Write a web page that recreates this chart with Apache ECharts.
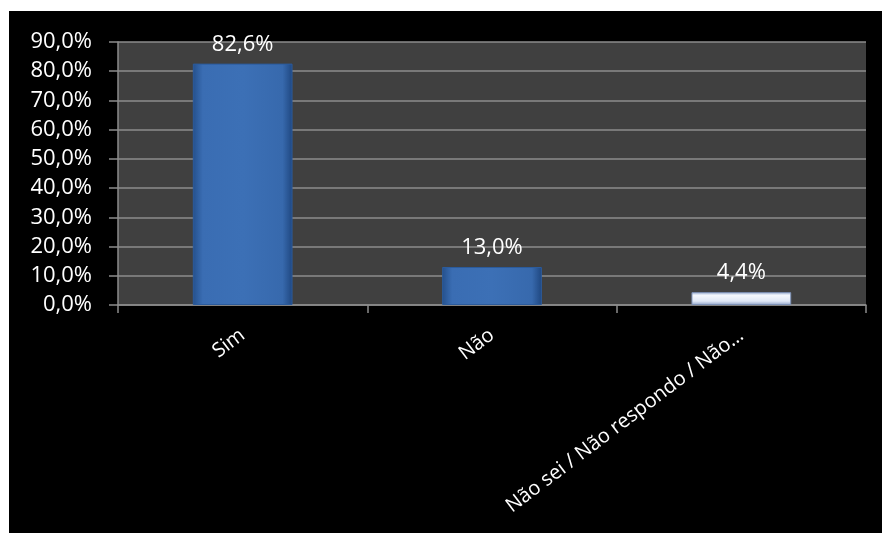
<!DOCTYPE html>
<html><head><meta charset="utf-8">
<script src="https://cdn.jsdelivr.net/npm/echarts@6/dist/echarts.min.js"></script>
<style>
html,body{margin:0;padding:0;background:#fff;width:882px;height:533px;overflow:hidden}
#c{position:absolute;left:9px;top:11px;width:873px;height:522px;background:#000}
</style></head><body>
<div id="c"></div>
<script>
var categories = ["Sim", "Não", "Não sei / Não respondo / Não…"];
var values = [82.6, 13.0, 4.4];
var yTicks = [0, 10, 20, 30, 40, 50, 60, 70, 80, 90];

function fmt(v){ return v.toFixed(1).replace('.', ',') + '%'; }
var blue = {type:'linear',x:0,y:0,x2:1,y2:0,colorStops:[
  {offset:0,color:'#24508c'},{offset:0.1,color:'#3a6db3'},{offset:0.5,color:'#3c70b6'},{offset:0.9,color:'#3769ad'},{offset:1,color:'#1f4780'}]};
var pale = {type:'linear',x:0,y:0,x2:0,y2:1,colorStops:[
  {offset:0,color:'#9fb2d6'},{offset:0.25,color:'#f4f7fc'},{offset:0.7,color:'#dfe7f5'},{offset:1,color:'#8fa3c9'}]};
var data = values.map(function(v,i){
  return {value:v, itemStyle:{color: i===2 ? pale : blue, borderColor: i===2 ? '#7f93b8' : '#2b5b9c', borderWidth:1}};
});
var chart = echarts.init(document.getElementById('c'));
chart.setOption({
  backgroundColor:'#000',
  animation:false,
  grid:{left:109, top:31, right:16, bottom:228, show:true, backgroundColor:'#404040', borderWidth:0},
  xAxis:{type:'category', data:categories,
    axisLine:{lineStyle:{color:'#8c8c8c', width:1.5}},
    axisTick:{show:true, length:8, alignWithLabel:false, lineStyle:{color:'#8c8c8c', width:1.5}},
    axisLabel:{color:'#fff', fontFamily:'Open Sans', fontSize:20, rotate:37, margin:28, interval:0}
  },
  yAxis:{type:'value', min:0, max:90, interval:10,
    axisLine:{show:true, lineStyle:{color:'#8c8c8c', width:1.5}},
    axisTick:{show:true, length:9, lineStyle:{color:'#8c8c8c', width:1.5}},
    splitLine:{lineStyle:{color:'#8c8c8c', width:1.5}},
    axisLabel:{color:'#fff', fontFamily:'Open Sans', fontSize:22, margin:26,
      formatter:function(v){ return fmt(v); }}
  },
  series:[{type:'bar', data:data, barWidth:'40%',
    label:{show:true, position:'top', distance:8, color:'#fff', fontFamily:'Open Sans', fontSize:22,
      formatter:function(p){ return fmt(p.value); }}
  }]
});
</script></body></html>
